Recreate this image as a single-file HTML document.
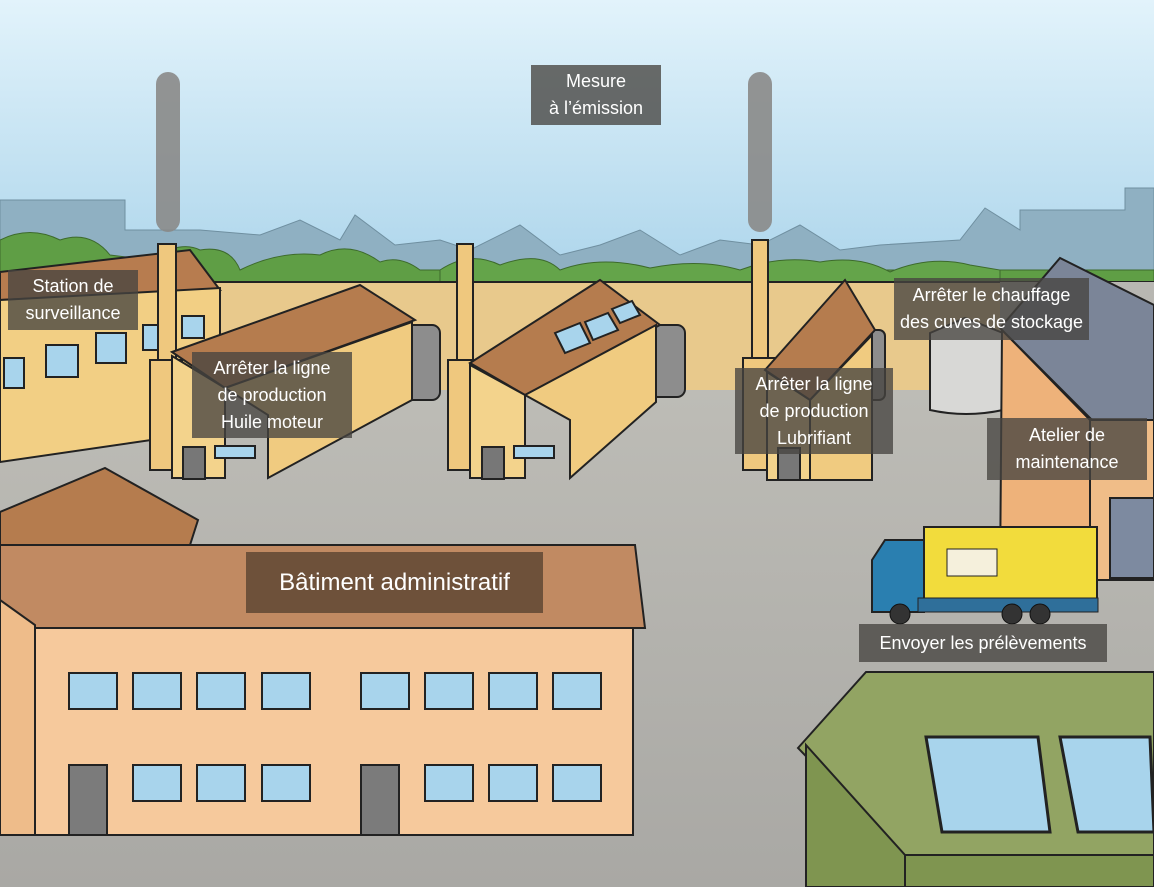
<!DOCTYPE html>
<html><head><meta charset="utf-8"><style>
html,body{margin:0;padding:0;width:1154px;height:887px;overflow:hidden;font-family:"Liberation Sans",sans-serif}
.l{position:absolute;background:rgba(70,68,64,0.78);color:#fff;font-size:18px;line-height:27px;text-align:center;display:flex;align-items:center;justify-content:center}
</style></head><body>
<svg width="1154" height="887" style="position:absolute;left:0;top:0" xmlns="http://www.w3.org/2000/svg">
<defs>
<linearGradient id="sky" x1="0" y1="0" x2="0" y2="1"><stop offset="0" stop-color="#e2f3fb"/><stop offset="1" stop-color="#a9d3ea"/></linearGradient>
<linearGradient id="gr" x1="0" y1="0" x2="0" y2="1"><stop offset="0" stop-color="#bdbcb6"/><stop offset="1" stop-color="#a9a8a4"/></linearGradient>
</defs>
<rect width="1154" height="300" fill="url(#sky)"/>
<path d="M0 200 H125 V230 H200 L260 235 L300 220 L340 240 L355 215 L395 245 L440 240 L470 250 L520 225 L560 255 L600 245 L640 230 L680 255 L720 240 L760 245 L800 225 L840 250 L880 245 L960 240 L985 208 L1020 230 V210 H1125 V188 H1154 V290 H0Z" fill="#8fb0c2" stroke="#6f8fa0"/>
<path d="M0 240 Q30 225 60 240 Q90 230 110 255 L150 260 Q180 240 200 250 Q230 245 240 270 Q280 250 320 255 Q350 240 380 262 Q400 255 420 270 H1154 V290 H0Z" fill="#5f9e45" stroke="#3d6a2c"/>
<path d="M440 270 Q470 250 500 265 Q540 250 560 270 Q600 255 650 268 Q700 258 740 270 Q780 255 820 262 Q860 255 890 272 Q930 255 970 265 L1000 270 V290 H440Z" fill="#64a44a" stroke="#3d6a2c"/>
<rect x="0" y="282" width="1154" height="112" fill="#e8c98c" stroke="#222" stroke-width="2"/>
<rect x="0" y="390" width="1154" height="497" fill="url(#gr)"/>
<rect x="1000" y="282" width="154" height="140" fill="#b8b7b2"/>
<path d="M0 272 L190 250 L220 290 L0 300Z" fill="#b77c4f" stroke="#222" stroke-width="2"/>
<path d="M0 300 L220 288 V430 L0 462Z" fill="#f2cf84" stroke="#222" stroke-width="2"/>
<g fill="#a8d4ec" stroke="#222" stroke-width="2"><rect x="4" y="358" width="20" height="30"/><rect x="46" y="345" width="32" height="32"/><rect x="96" y="333" width="30" height="30"/><rect x="143" y="325" width="20" height="25"/><rect x="182" y="316" width="22" height="22"/></g>
<g fill="#efc87e" stroke="#222" stroke-width="2">
<rect x="158" y="244" width="18" height="120"/><path d="M150 360 H182 V470 H150Z"/>
<rect x="457" y="244" width="16" height="120"/><path d="M448 360 H480 V470 H448Z"/>
<rect x="752" y="240" width="16" height="120"/><path d="M743 358 H775 V470 H743Z"/>
</g>
<g fill="#8a8a88" opacity="0.9"><rect x="156" y="72" width="24" height="160" rx="12"/><rect x="748" y="72" width="24" height="160" rx="12"/></g>
<g fill="#8d8d8d" stroke="#222" stroke-width="2"><rect x="405" y="325" width="35" height="75" rx="8"/><rect x="650" y="325" width="35" height="72" rx="8"/><rect x="860" y="330" width="25" height="70" rx="6"/></g>
<path d="M930 333 L965 318 L1003 333 V410 Q966 418 930 410Z" fill="#d8d8d6" stroke="#222" stroke-width="2"/>
<path d="M172 352 L360 285 L415 320 L225 388Z" fill="#b57c4e" stroke="#222" stroke-width="2"/>
<path d="M225 388 L412 322 V400 L268 478 V415Z" fill="#f0cb80" stroke="#222" stroke-width="2"/>
<path d="M172 356 L225 388 V478 H172Z" fill="#f3d38c" stroke="#222" stroke-width="2"/>
<rect x="183" y="447" width="22" height="32" fill="#777" stroke="#222" stroke-width="2"/>
<rect x="215" y="446" width="40" height="12" fill="#a8d4ec" stroke="#222" stroke-width="2"/>
<path d="M470 363 L600 280 L660 325 L525 395Z" fill="#b57c4e" stroke="#222" stroke-width="2"/>
<path d="M525 395 L656 325 V402 L570 478 V420Z" fill="#f0cb80" stroke="#222" stroke-width="2"/>
<path d="M470 365 L525 395 V478 H470Z" fill="#f3d38c" stroke="#222" stroke-width="2"/>
<rect x="482" y="447" width="22" height="32" fill="#777" stroke="#222" stroke-width="2"/>
<rect x="514" y="446" width="40" height="12" fill="#a8d4ec" stroke="#222" stroke-width="2"/>
<g fill="#a8d4ec" stroke="#222" stroke-width="2"><polygon points="555,333 580,323 590,343 565,353"/><polygon points="585,322 608,313 618,330 593,340"/><polygon points="612,309 632,301 640,315 620,323"/></g>
<path d="M765 370 L845 280 L875 330 L810 400Z" fill="#b57c4e" stroke="#222" stroke-width="2"/>
<path d="M767 372 L810 400 V480 H767Z" fill="#f3d38c" stroke="#222" stroke-width="2"/>
<path d="M810 400 L872 335 V480 H810Z" fill="#f0cb80" stroke="#222" stroke-width="2"/>
<rect x="778" y="448" width="22" height="32" fill="#777" stroke="#222" stroke-width="2"/>
<path d="M1002 330 L1090 420 V580 H1000Z" fill="#eeb27a" stroke="#222" stroke-width="2"/>
<path d="M1090 420 L1154 420 V580 H1090Z" fill="#f0bd88" stroke="#222" stroke-width="2"/>
<path d="M1000 328 L1060 258 L1154 305 V420 L1092 420Z" fill="#7b8598" stroke="#222" stroke-width="2"/>
<rect x="1110" y="498" width="44" height="80" fill="#7d8aa0" stroke="#222" stroke-width="2"/>
<path d="M0 512 L105 468 L198 520 L190 545 H0Z" fill="#b57c4e" stroke="#222" stroke-width="2"/>
<path d="M0 545 H635 L645 628 H0Z" fill="#c18a62" stroke="#222" stroke-width="2"/>
<rect x="35" y="628" width="598" height="207" fill="#f6c99c" stroke="#222" stroke-width="2"/>
<path d="M0 600 L35 625 V835 H0Z" fill="#eebc8a" stroke="#222" stroke-width="2"/>
<g fill="#a8d4ec" stroke="#222" stroke-width="2">
<rect x="69" y="673" width="48" height="36"/><rect x="133" y="673" width="48" height="36"/><rect x="197" y="673" width="48" height="36"/><rect x="262" y="673" width="48" height="36"/>
<rect x="361" y="673" width="48" height="36"/><rect x="425" y="673" width="48" height="36"/><rect x="489" y="673" width="48" height="36"/><rect x="553" y="673" width="48" height="36"/>
<rect x="133" y="765" width="48" height="36"/><rect x="197" y="765" width="48" height="36"/><rect x="262" y="765" width="48" height="36"/>
<rect x="425" y="765" width="48" height="36"/><rect x="489" y="765" width="48" height="36"/><rect x="553" y="765" width="48" height="36"/>
</g>
<rect x="69" y="765" width="38" height="70" fill="#7b7b7b" stroke="#222" stroke-width="2"/>
<rect x="361" y="765" width="38" height="70" fill="#7b7b7b" stroke="#222" stroke-width="2"/>
<rect x="924" y="527" width="173" height="80" fill="#f2dc3c" stroke="#222" stroke-width="2"/>
<rect x="947" y="549" width="50" height="27" fill="#f5f0dc" stroke="#222"/>
<path d="M872 600 V560 L885 540 H924 V612 H872Z" fill="#2a7fb0" stroke="#222" stroke-width="2"/>
<rect x="918" y="598" width="180" height="14" fill="#2f6f9a" stroke="#222"/>
<g fill="#333" stroke="#111"><circle cx="900" cy="614" r="10"/><circle cx="1012" cy="614" r="10"/><circle cx="1040" cy="614" r="10"/></g>
<path d="M798 748 L866 672 H1154 V858 H905Z" fill="#92a463" stroke="#222" stroke-width="2"/>
<path d="M806 745 L905 855 V887 H806Z" fill="#7f9550" stroke="#222" stroke-width="2"/>
<rect x="905" y="855" width="249" height="32" fill="#7f9550" stroke="#222" stroke-width="2"/>
<g fill="#a8d4ec" stroke="#222" stroke-width="3"><polygon points="926,737 1038,737 1050,832 942,832"/><polygon points="1060,737 1150,737 1154,832 1078,832"/></g>
</svg>
<div class="l" style="left:531px;top:65px;width:130px;height:60px">Mesure<br>à l’émission</div>
<div class="l" style="left:8px;top:270px;width:130px;height:60px">Station de<br>surveillance</div>
<div class="l" style="left:192px;top:352px;width:160px;height:86px">Arrêter la ligne<br>de production<br>Huile moteur</div>
<div class="l" style="left:735px;top:368px;width:158px;height:86px">Arrêter la ligne<br>de production<br>Lubrifiant</div>
<div class="l" style="left:894px;top:278px;width:195px;height:62px">Arrêter le chauffage<br>des cuves de stockage</div>
<div class="l" style="left:987px;top:418px;width:160px;height:62px">Atelier de<br>maintenance</div>
<div class="l" style="left:246px;top:552px;width:297px;height:61px;font-size:24px;background:rgba(95,70,52,0.85)">Bâtiment administratif</div>
<div class="l" style="left:859px;top:624px;width:248px;height:38px">Envoyer les prélèvements</div>
</body></html>
